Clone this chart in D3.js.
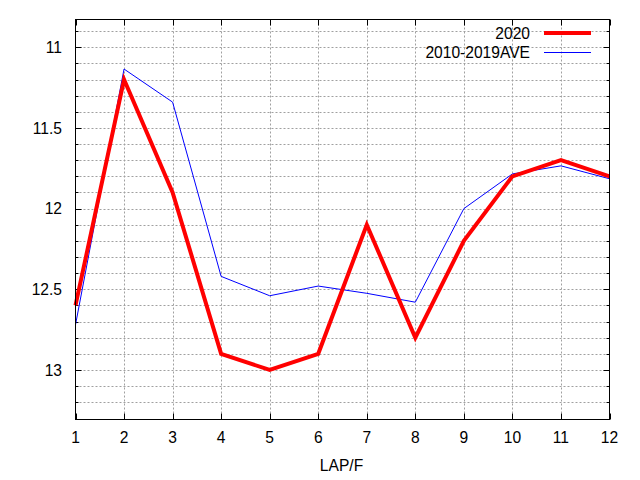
<!DOCTYPE html>
<html><head><meta charset="utf-8">
<script src="https://cdn.jsdelivr.net/npm/d3@7"></script>
<style>body{margin:0;background:#fff}svg{display:block}text{font-family:"Liberation Sans",Arial,sans-serif;font-size:15.6px;fill:#000}</style>
</head><body>
<svg id="c" width="640" height="480"></svg>
<script>
const laps = [1,2,3,4,5,6,7,8,9,10,11,12];
const series2020 = [12.6,11.2,11.9,12.9,13.0,12.9,12.1,12.8,12.2,11.8,11.7,11.8];
const seriesAve = [12.72,11.135,11.34,12.42,12.54,12.48,12.525,12.58,12.0,11.785,11.735,11.815];
const yMajor = [11,11.5,12,12.5,13];
const yMinor = [10.9,11,11.1,11.2,11.3,11.4,11.5,11.6,11.7,11.8,11.9,12,12.1,12.2,12.3,12.4,12.5,12.6,12.7,12.8,12.9,13,13.1,13.2];
const seriesNames = ["2020","2010-2019AVE"];
const xLabel = "LAP/F";

const svg = d3.select("#c");
const L=75.5, R=609.5, T=19.5, B=419.5;
const x = d3.scaleLinear().domain([1,12]).range([L,R]);
const y = d3.scaleLinear().domain([10.828,13.307]).range([T,B]);

// grid
const g = svg.append("g");
g.selectAll("line.hy").data(yMinor).join("line")
  .attr("x1",L).attr("x2",R).attr("y1",d=>Math.round(y(d))+0.5).attr("y2",d=>Math.round(y(d))+0.5)
  .attr("stroke","#a0a0a0").attr("stroke-width",1).attr("stroke-dasharray","2,2");
g.selectAll("line.vx").data(laps.slice(1,-1)).join("line")
  .attr("x1",d=>Math.round(x(d))+0.5).attr("x2",d=>Math.round(x(d))+0.5).attr("y1",T).attr("y2",B)
  .attr("stroke","#a0a0a0").attr("stroke-width",1).attr("stroke-dasharray","2,2");

// ticks
const tk = svg.append("g").attr("stroke","#000").attr("stroke-width",1);
yMinor.forEach(v=>{
  const major = yMajor.some(m=>Math.abs(m-v)<1e-6);
  const len = major?6:3, yy=Math.round(y(v))+0.5;
  tk.append("line").attr("x1",L).attr("x2",L+len).attr("y1",yy).attr("y2",yy);
  tk.append("line").attr("x1",R).attr("x2",R-len).attr("y1",yy).attr("y2",yy);
});
laps.forEach(v=>{
  const xx=Math.round(x(v))+0.5;
  tk.append("line").attr("x1",xx).attr("x2",xx).attr("y1",B).attr("y2",B-6);
  tk.append("line").attr("x1",xx).attr("x2",xx).attr("y1",T).attr("y2",T+6);
});

// tick labels
svg.append("g").selectAll("text").data(yMajor).join("text")
  .attr("x",62).attr("y",d=>y(d)+5.6).attr("text-anchor","end").text(d=>d);
svg.append("g").selectAll("text").data(laps).join("text")
  .attr("x",d=>x(d)).attr("y",443).attr("text-anchor","middle").text(d=>d);
svg.append("text").attr("x",(L+R)/2-1).attr("y",471).attr("text-anchor","middle").text(xLabel);

// lines
const line = d3.line().x((d,i)=>x(laps[i])).y(d=>y(d));
svg.append("path").datum(seriesAve).attr("d",line).attr("fill","none").attr("stroke","#0000ff").attr("stroke-width",1);
svg.append("path").datum(series2020).attr("d",line).attr("fill","none").attr("stroke","#ff0000").attr("stroke-width",4).attr("stroke-linejoin","miter");

// border
svg.append("rect").attr("x",L).attr("y",T).attr("width",R-L).attr("height",B-T).attr("fill","none").attr("stroke","#000").attr("stroke-width",1);

// legend
const leg = [{name:seriesNames[0],c:"#ff0000",w:4,y:33},{name:seriesNames[1],c:"#0000ff",w:1,y:52.5}];
leg.forEach(d=>{
  svg.append("text").attr("x",530).attr("y",d.y+5.6).attr("text-anchor","end").text(d.name);
  svg.append("line").attr("x1",544).attr("x2",591).attr("y1",d.y).attr("y2",d.y).attr("stroke",d.c).attr("stroke-width",d.w);
});
</script>
</body></html>
